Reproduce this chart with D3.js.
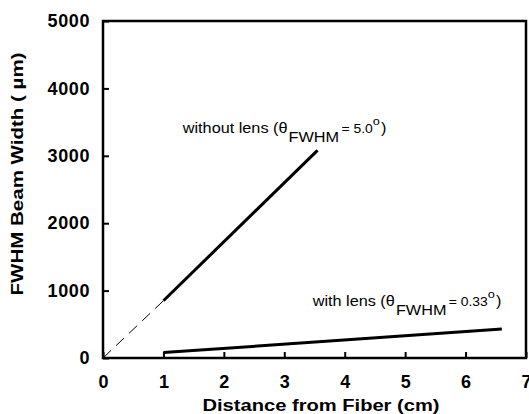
<!DOCTYPE html>
<meta charset="utf-8">
<style>
body { margin: 0; background: white; }
svg { font-family: Arial, "Liberation Sans", sans-serif; }
.tick text { font-weight: bold; font-size: 18px; fill: black; }
.lbl { font-size: 14px; fill: black; }
.title { font-weight: bold; font-size: 16px; fill: black; }
</style>
<script src="https://d3js.org/d3.v7.min.js"></script>
<div id="chart"></div>
<script>
// data
var xTicks = [0, 1, 2, 3, 4, 5, 6, 7];
var yTicks = [0, 1000, 2000, 3000, 4000, 5000];
var withoutLens = [[1, 850], [3.55, 3080]];      // measured, solid
var withoutLensFit = [[0, 0], [1, 850]];          // extrapolated, dashed
var withLens = [[1, 80], [6.6, 430]];

var W = 529, H = 414;
var margin = {top: 21, right: 3, bottom: 56, left: 103};

var x = d3.scaleLinear().domain([0, 7]).range([margin.left, W - margin.right]);
var y = d3.scaleLinear().domain([0, 5000]).range([H - margin.bottom, margin.top]);

var svg = d3.select("#chart").append("svg")
    .attr("width", W)
    .attr("height", H);

// axes with inward ticks
var xAxis = svg.append("g")
    .attr("transform", "translate(0," + y(0) + ")")
    .call(d3.axisBottom(x).tickValues(xTicks).tickFormat(d3.format("d"))
      .tickSizeInner(-6).tickSizeOuter(0).tickPadding(17));
var yAxis = svg.append("g")
    .attr("transform", "translate(" + x(0) + ",0)")
    .call(d3.axisLeft(y).tickValues(yTicks).tickFormat(d3.format("d"))
      .tickSizeInner(-6).tickSizeOuter(0).tickPadding(13));

[xAxis, yAxis].forEach(function(a) {
  a.select(".domain").remove();
  a.selectAll(".tick line").attr("stroke", "black").attr("stroke-width", 2);
});
yAxis.selectAll(".tick text").style("letter-spacing", "0.6px");

// frame
svg.append("rect")
    .attr("x", x(0))
    .attr("y", y(5000))
    .attr("width", x(7) - x(0))
    .attr("height", y(0) - y(5000))
    .attr("fill", "none")
    .attr("stroke", "black")
    .attr("stroke-width", 2.5);

var line = d3.line()
    .x(function(d) { return x(d[0]); })
    .y(function(d) { return y(d[1]); });

svg.append("path")
    .datum(withoutLensFit)
    .attr("d", line)
    .attr("fill", "none")
    .attr("stroke", "black")
    .attr("stroke-width", 1)
    .attr("stroke-dasharray", "11,7");

svg.append("path")
    .datum(withoutLens)
    .attr("d", line)
    .attr("fill", "none")
    .attr("stroke", "black")
    .attr("stroke-width", 3);

svg.append("path")
    .datum(withLens)
    .attr("d", line)
    .attr("fill", "none")
    .attr("stroke", "black")
    .attr("stroke-width", 3);

// annotations (the scan is a bit wide, so stretch horizontally)
function note(px, py, main, eq) {
  var t = svg.append("text").attr("class", "lbl")
      .attr("transform", "translate(" + x(px) + "," + y(py) + ") scale(1.16,1)");
  t.append("tspan").text(main + " (\u03b8");
  t.append("tspan").attr("dy", 9).attr("dx", 1).text("FWHM");
  t.append("tspan").attr("dy", -9).attr("dx", 2).style("font-size", "12px").text("= " + eq);
  t.append("tspan").attr("dy", -8).style("font-size", "11px").text("o");
  t.append("tspan").attr("dy", 8).attr("dx", 1).text(")");
}
note(1.32, 3340, "without lens", "5.0");
note(3.47, 770, "with lens", "0.33");

// axis titles
svg.append("text").attr("class", "title")
    .attr("x", 321)
    .attr("y", 411)
    .attr("text-anchor", "middle")
    .attr("textLength", 237)
    .attr("lengthAdjust", "spacingAndGlyphs")
    .text("Distance from Fiber (cm)");

svg.append("text").attr("class", "title")
    .attr("transform", "translate(23,174) rotate(-90)")
    .attr("text-anchor", "middle")
    .attr("textLength", 243)
    .attr("lengthAdjust", "spacingAndGlyphs")
    .text("FWHM Beam Width ( \u00b5m)");
</script>
